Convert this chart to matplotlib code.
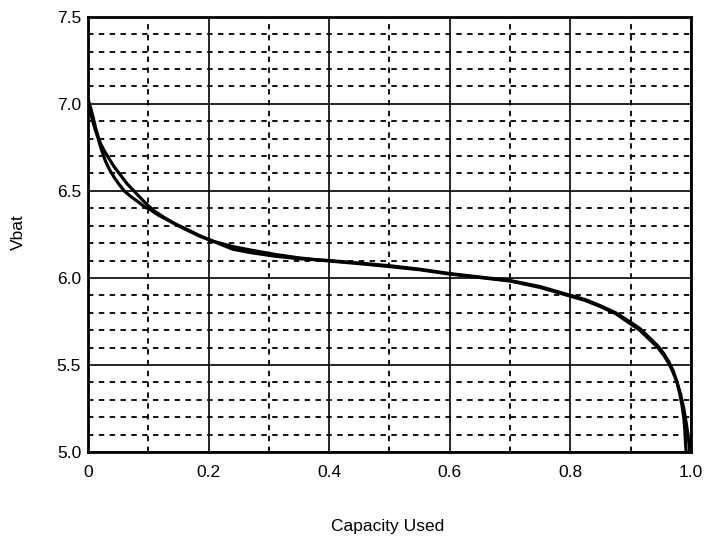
import numpy as np
import matplotlib
matplotlib.use("Agg")
import matplotlib.pyplot as plt
from matplotlib.ticker import MultipleLocator

plt.rcParams['font.family'] = ['Liberation Sans', 'DejaVu Sans']

# Discharge curve 1 (stays higher from ~0.03 to ~0.1)
cap_a = [0, 0.004, 0.008, 0.012, 0.016, 0.021, 0.027, 0.035, 0.043, 0.054,
         0.065, 0.076, 0.087, 0.098, 0.11, 0.125, 0.142, 0.16, 0.175, 0.19,
         0.208, 0.24, 0.27, 0.31, 0.35, 0.4, 0.45, 0.5, 0.55, 0.6, 0.65,
         0.7, 0.75, 0.8, 0.825, 0.85, 0.875, 0.9, 0.915, 0.93, 0.945,
         0.955, 0.963, 0.97, 0.976, 0.981, 0.985, 0.988, 0.99, 0.991, 0.992]
vbat_a = [7.03, 6.98, 6.93, 6.87, 6.82, 6.77, 6.73, 6.685, 6.64, 6.59,
          6.54, 6.50, 6.46, 6.42, 6.385, 6.35, 6.315, 6.285, 6.26, 6.235,
          6.21, 6.165, 6.145, 6.125, 6.11, 6.10, 6.085, 6.07, 6.05, 6.025,
          6.005, 5.985, 5.95, 5.90, 5.875, 5.84, 5.80, 5.745, 5.71, 5.66,
          5.61, 5.565, 5.52, 5.47, 5.41, 5.34, 5.27, 5.20, 5.12, 5.05, 5.00]

# Discharge curve 2 (drops faster at the start)
cap_b = [0, 0.004, 0.008, 0.012, 0.016, 0.022, 0.029, 0.036, 0.043, 0.051,
         0.06, 0.07, 0.082, 0.093, 0.104, 0.117, 0.131, 0.147, 0.164, 0.185,
         0.208, 0.24, 0.27, 0.31, 0.35, 0.4, 0.45, 0.5, 0.55, 0.6, 0.65,
         0.7, 0.75, 0.8, 0.825, 0.85, 0.875, 0.9, 0.915, 0.93, 0.945,
         0.955, 0.963, 0.97, 0.977, 0.983, 0.988, 0.992, 0.995, 0.997, 0.998]
vbat_b = [7.02, 6.95, 6.90, 6.85, 6.81, 6.74, 6.67, 6.62, 6.58, 6.54,
          6.50, 6.47, 6.44, 6.41, 6.39, 6.36, 6.335, 6.305, 6.275, 6.24,
          6.21, 6.18, 6.16, 6.135, 6.115, 6.097, 6.082, 6.065, 6.047, 6.022,
          6.002, 5.982, 5.945, 5.895, 5.87, 5.835, 5.795, 5.735, 5.70, 5.65,
          5.60, 5.555, 5.51, 5.46, 5.40, 5.33, 5.25, 5.17, 5.10, 5.04, 5.00]

x_ticks = [0, 0.2, 0.4, 0.6, 0.8, 1.0]
x_labels = ['0', '0.2', '0.4', '0.6', '0.8', '1.0']
y_ticks = [5.0, 5.5, 6.0, 6.5, 7.0, 7.5]
y_labels = ['5.0', '5.5', '6.0', '6.5', '7.0', '7.5']

fig = plt.figure(figsize=(7.04, 5.41), dpi=100)
ax = fig.add_axes([0.125, 0.1645, 0.8565, 0.8045])

ax.plot(cap_a, vbat_a, color='black', linewidth=2.3,
        solid_capstyle='round', solid_joinstyle='round')
ax.plot(cap_b, vbat_b, color='black', linewidth=2.3,
        solid_capstyle='round', solid_joinstyle='round')

ax.set_xlim(0, 1.0)
ax.set_ylim(5.0, 7.5)
ax.set_xticks(x_ticks)
ax.set_xticklabels(x_labels)
ax.set_yticks(y_ticks)
ax.set_yticklabels(y_labels)
ax.xaxis.set_minor_locator(MultipleLocator(0.1))
ax.yaxis.set_minor_locator(MultipleLocator(0.1))

ax.grid(which='major', color='black', linewidth=1.2, linestyle='-')
ax.grid(which='minor', color='black', linewidth=1.3, linestyle=(0, (3, 3)))
ax.set_axisbelow(True)

ax.tick_params(which='both', length=0, labelsize=12.5, colors='black')
ax.tick_params(axis='x', pad=9)
ax.tick_params(axis='y', pad=5)

for sp in ax.spines.values():
    sp.set_linewidth(2)
    sp.set_color('black')

fig.text(0.551, 1 - 526 / 541, 'Capacity Used', ha='center', va='center',
         fontsize=12.5)
fig.text(18 / 704, 1 - 232 / 541, 'Vbat', ha='center', va='center',
         rotation=90, fontsize=12.5)

fig.savefig('out.png', dpi=100)
